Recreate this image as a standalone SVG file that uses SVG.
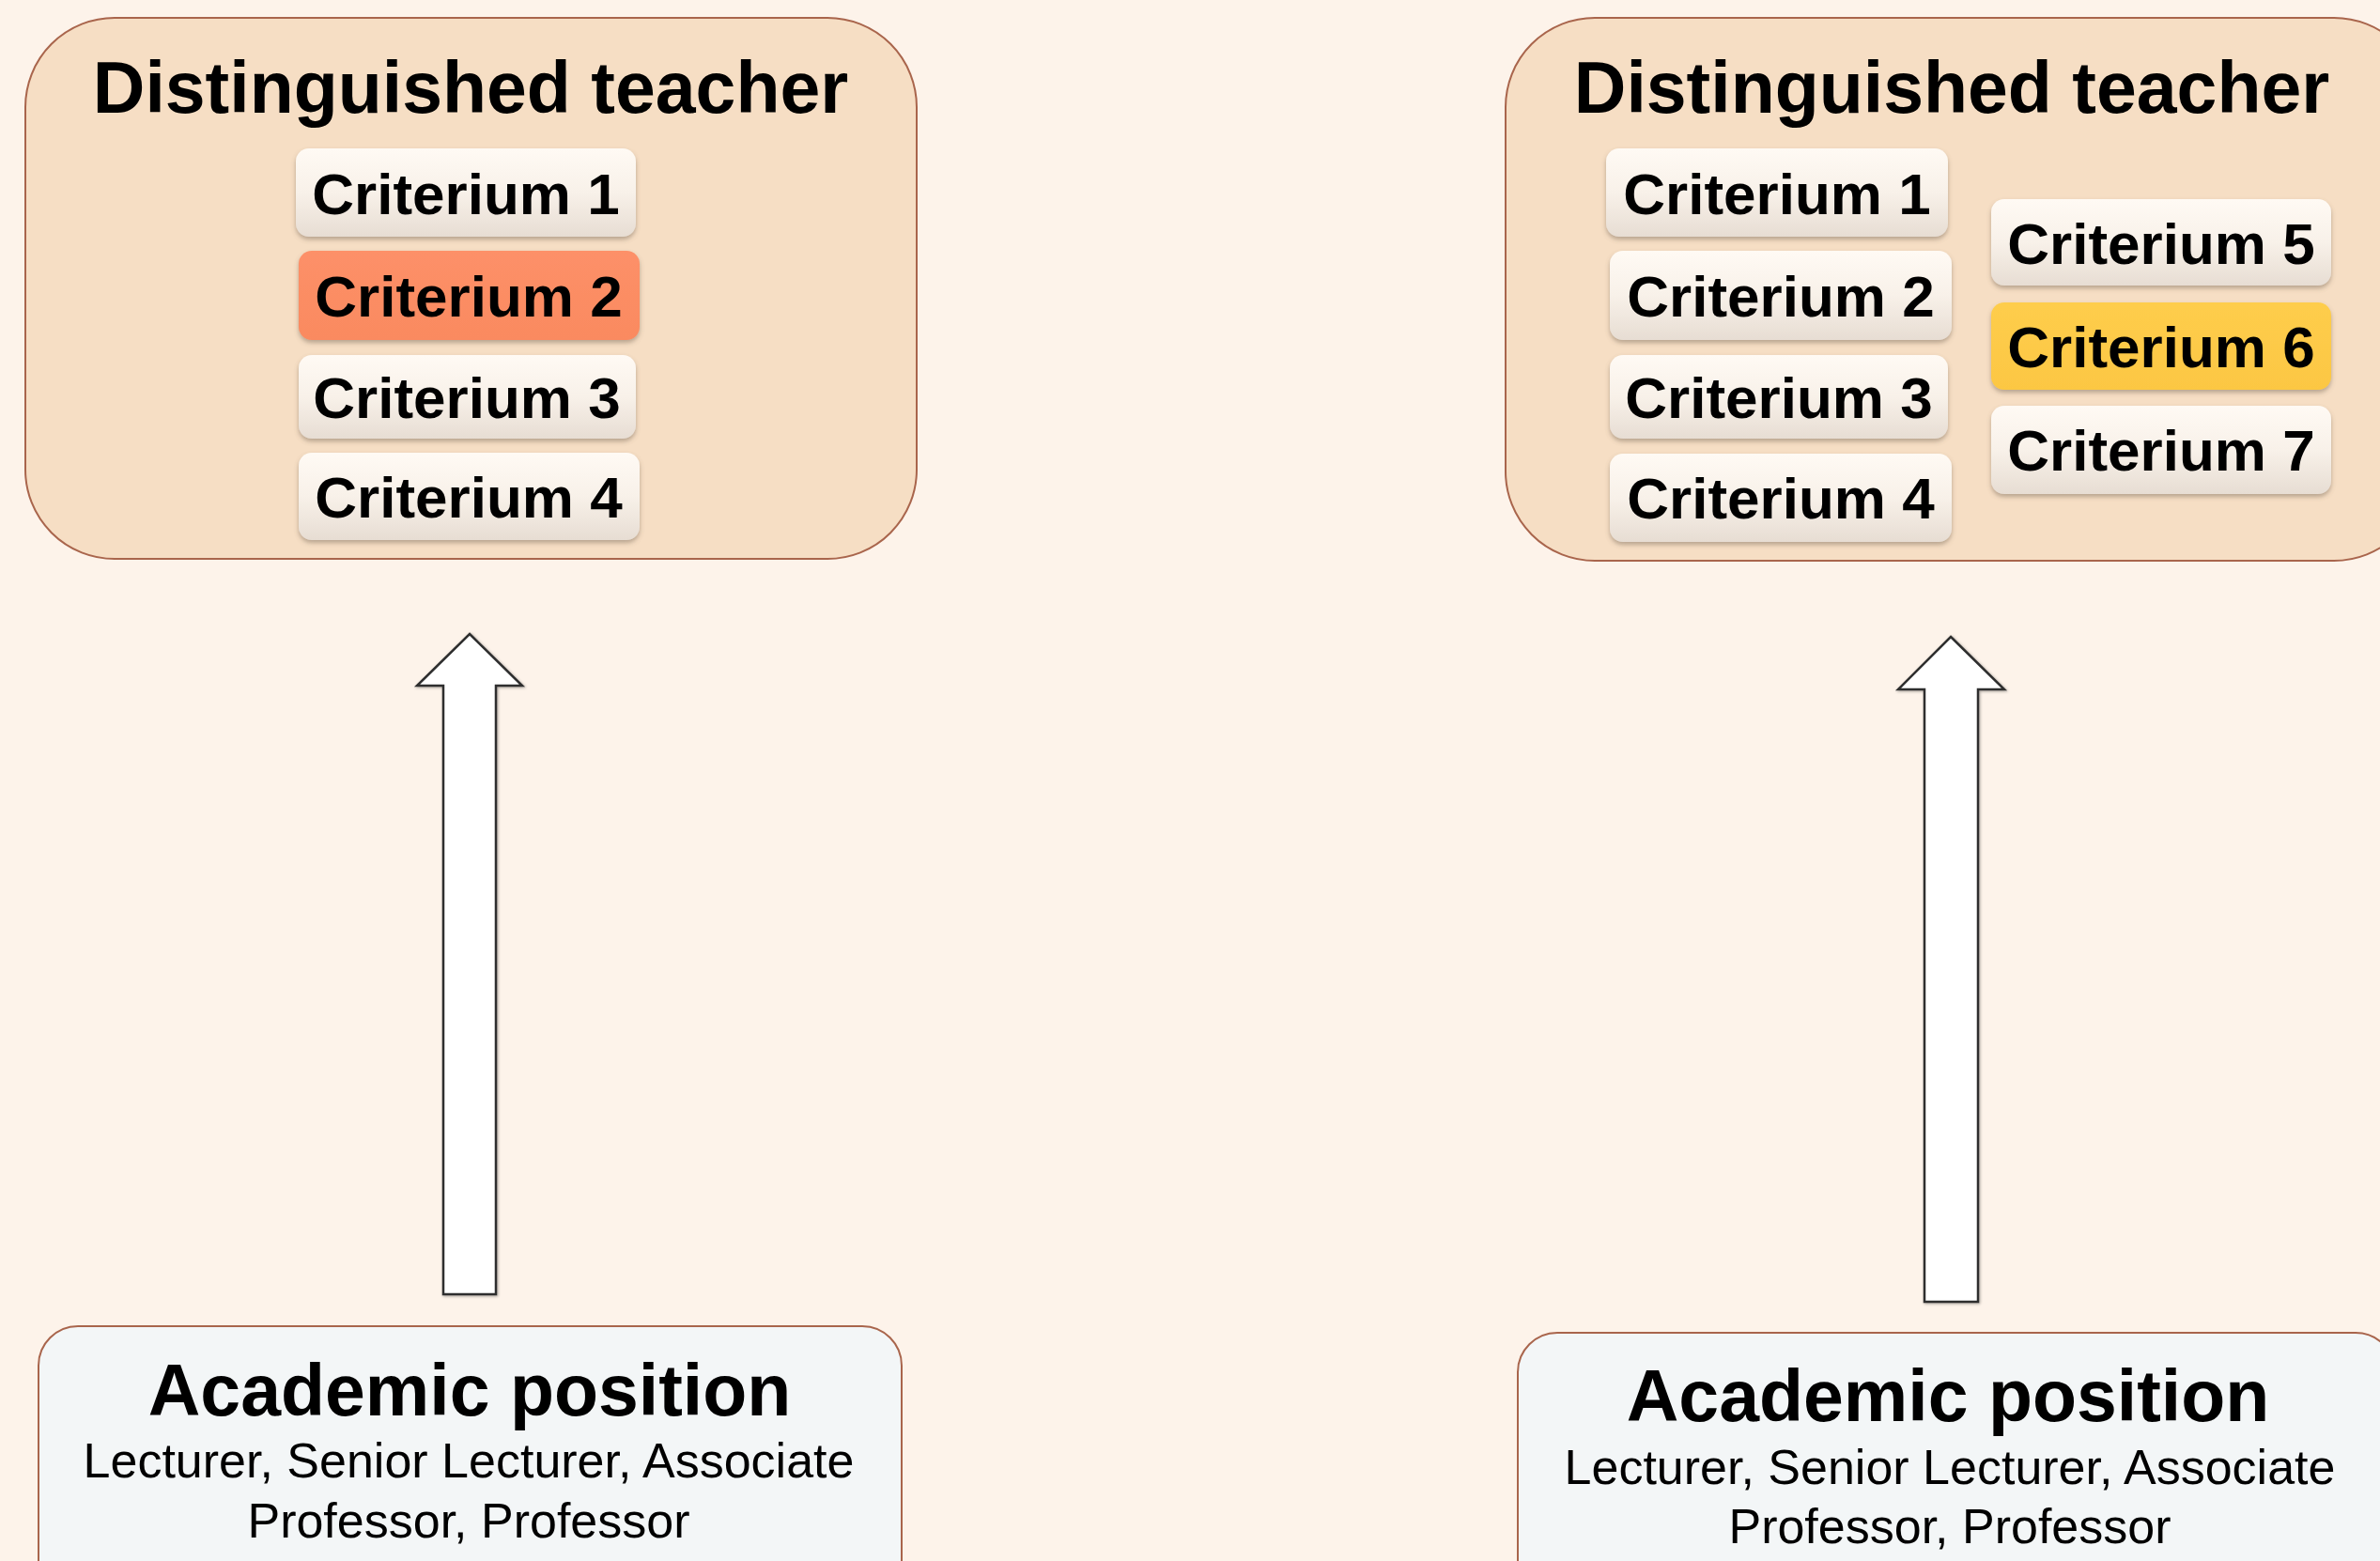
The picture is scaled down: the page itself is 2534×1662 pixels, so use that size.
<svg xmlns="http://www.w3.org/2000/svg" width="2534" height="1662" viewBox="0 0 2534 1662">
  <defs>
    <linearGradient id="chipFill" x1="0" y1="0" x2="0" y2="1">
      <stop offset="0" stop-color="#fffaf4"/>
      <stop offset="0.5" stop-color="#f8f1e9"/>
      <stop offset="1" stop-color="#e7ddd3"/>
    </linearGradient>
    <linearGradient id="chipOrange" x1="0" y1="0" x2="0" y2="1">
      <stop offset="0" stop-color="#fd9068"/>
      <stop offset="1" stop-color="#fa8a60"/>
    </linearGradient>
    <linearGradient id="chipYellow" x1="0" y1="0" x2="0" y2="1">
      <stop offset="0" stop-color="#fecd4c"/>
      <stop offset="1" stop-color="#fcc743"/>
    </linearGradient>
    <filter id="chipShadow" x="-10%" y="-20%" width="120%" height="150%">
      <feDropShadow dx="0" dy="3" stdDeviation="2.5" flood-color="#6b5a4a" flood-opacity="0.45"/>
    </filter>
    <filter id="arrowShadow" x="-20%" y="-5%" width="140%" height="110%">
      <feDropShadow dx="1" dy="1" stdDeviation="1.5" flood-color="#000" flood-opacity="0.35"/>
    </filter>
  </defs>
  <style>
    .panel { fill: #f6dec4; stroke: #a9654c; stroke-width: 2; }
    .base { fill: #f3f6f7; stroke: #a9654c; stroke-width: 2; }
    .chip { fill: url(#chipFill); filter: url(#chipShadow); }
    .chip.hot { fill: url(#chipOrange); }
    .chip.gold { fill: url(#chipYellow); }
    .title { font-family: "Liberation Sans", Arial, sans-serif; font-weight: bold; font-size: 77px; fill: #000; text-anchor: middle; }
    .label { font-family: "Liberation Sans", Arial, sans-serif; font-weight: bold; font-size: 62px; fill: #000; text-anchor: middle; }
    .sub { font-family: "Liberation Sans", Arial, sans-serif; font-size: 52px; fill: #000; text-anchor: middle; }
    .arrow { fill: #ffffff; stroke: #2e2e2e; stroke-width: 2.5; stroke-linejoin: miter; filter: url(#arrowShadow); }
  </style>

  <rect width="2534" height="1662" fill="#fdf3ea"/>

  <!-- Left column: distinguished teacher with four criteria -->
  <g id="left-teacher">
    <rect class="panel" x="27" y="19" width="949" height="576" rx="95" ry="95"/>
    <text class="title" x="501" y="120">Distinguished teacher</text>
    <g id="left-c1">
      <rect class="chip" x="315" y="158" width="362" height="94" rx="14"/>
      <text class="label" x="496" y="228">Criterium 1</text>
    </g>
    <g id="left-c2">
      <rect class="chip hot" x="318" y="267" width="363" height="95" rx="14"/>
      <text class="label" x="499" y="337">Criterium 2</text>
    </g>
    <g id="left-c3">
      <rect class="chip" x="318" y="378" width="359" height="89" rx="14"/>
      <text class="label" x="497" y="445">Criterium 3</text>
    </g>
    <g id="left-c4">
      <rect class="chip" x="318" y="482" width="363" height="93" rx="14"/>
      <text class="label" x="499" y="551">Criterium 4</text>
    </g>
  </g>

  <g id="left-position">
    <rect class="base" x="41" y="1412" width="919" height="300" rx="42" ry="42"/>
    <text class="title" x="500" y="1507">Academic position</text>
    <text class="sub" x="499" y="1573">Lecturer, Senior Lecturer, Associate</text>
    <text class="sub" x="499" y="1637">Professor, Professor</text>
  </g>

  <!-- Right column: distinguished teacher with seven criteria -->
  <g id="right-teacher">
    <rect class="panel" x="1603" y="19" width="977" height="578" rx="95" ry="95"/>
    <text class="title" x="2078" y="120">Distinguished teacher</text>
    <g id="right-c1">
      <rect class="chip" x="1710" y="158" width="364" height="94" rx="14"/>
      <text class="label" x="1892" y="228">Criterium 1</text>
    </g>
    <g id="right-c2">
      <rect class="chip" x="1714" y="267" width="364" height="95" rx="14"/>
      <text class="label" x="1896" y="337">Criterium 2</text>
    </g>
    <g id="right-c3">
      <rect class="chip" x="1714" y="378" width="360" height="89" rx="14"/>
      <text class="label" x="1894" y="445">Criterium 3</text>
    </g>
    <g id="right-c4">
      <rect class="chip" x="1714" y="483" width="364" height="94" rx="14"/>
      <text class="label" x="1896" y="552">Criterium 4</text>
    </g>
    <g id="right-c5">
      <rect class="chip" x="2120" y="212" width="362" height="92" rx="14"/>
      <text class="label" x="2301" y="281">Criterium 5</text>
    </g>
    <g id="right-c6">
      <rect class="chip gold" x="2120" y="322" width="362" height="93" rx="14"/>
      <text class="label" x="2301" y="391">Criterium 6</text>
    </g>
    <g id="right-c7">
      <rect class="chip" x="2120" y="432" width="362" height="94" rx="14"/>
      <text class="label" x="2301" y="501">Criterium 7</text>
    </g>
  </g>

  <g id="right-position">
    <rect class="base" x="1616" y="1419" width="934" height="300" rx="42" ry="42"/>
    <text class="title" x="2074" y="1513">Academic position</text>
    <text class="sub" x="2076" y="1580">Lecturer, Senior Lecturer, Associate</text>
    <text class="sub" x="2076" y="1643">Professor, Professor</text>
  </g>

  <!-- Block arrows from position to teacher -->
  <g id="connectors">
    <path class="arrow" d="M500,675 L556,730 L528,730 L528,1378 L472,1378 L472,730 L444,730 Z"/>
    <path class="arrow" d="M2077,678 L2134,734 L2106,734 L2106,1386 L2049,1386 L2049,734 L2021,734 Z"/>
  </g>
</svg>
